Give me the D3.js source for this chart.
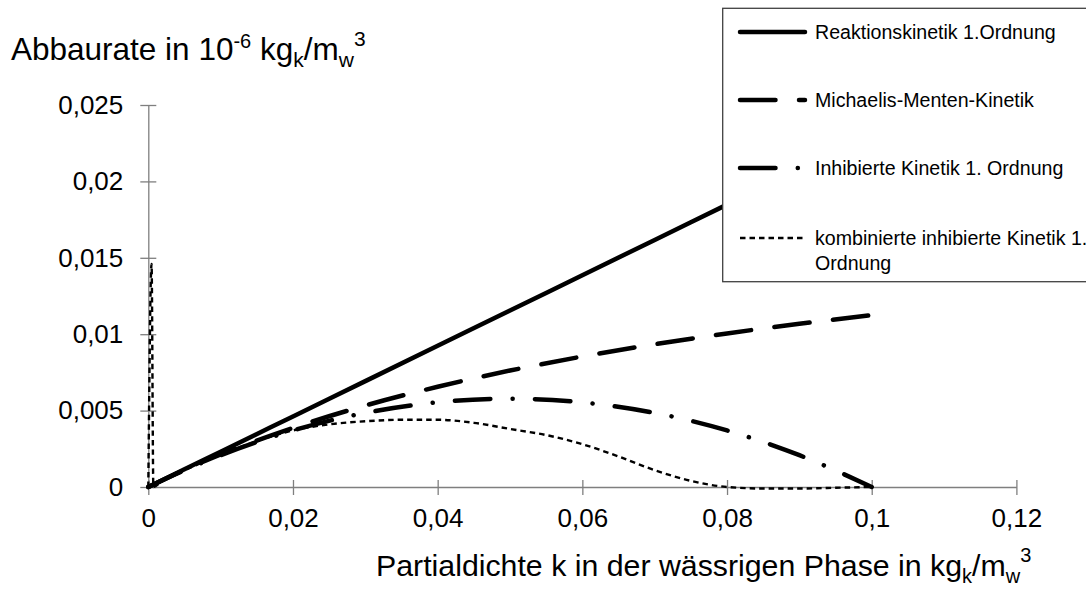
<html>
<head>
<script src="https://d3js.org/d3.v7.min.js"></script>
<style>
  body { margin: 0; background: #fff; }
  text { font-family: "Liberation Sans", Arial, sans-serif; fill: #000; }
  .axis path, .axis line { stroke: #7f7f7f; stroke-width: 1.3px; }
</style>
</head>
<body>
<svg id="chart" width="1086" height="592"></svg>
<script>
// x values (Partialdichte) shared by the three smooth curves
const cValues = [0, 0.005, 0.01, 0.02, 0.03, 0.04, 0.05, 0.06, 0.07, 0.08, 0.09, 0.1];
const reaktion = [0, 0.00116, 0.00231, 0.00462, 0.00693, 0.00924, 0.01155, 0.01386, 0.01617, 0.01848, 0.02079, 0.0231];
const michaelis = [0, 0.00112, 0.00213, 0.00387, 0.00533, 0.00656, 0.00762, 0.00854, 0.00934, 0.01005, 0.01068, 0.01125];
const inhibiert = [0, 0.0011, 0.00208, 0.0037, 0.00485, 0.00554, 0.00578, 0.00554, 0.00485, 0.0037, 0.00208, 0];
// combined curve has its own x values (spike near 0)
const kombX = [0, 0.00045, 0.0007, 0.002, 0.005, 0.01, 0.015, 0.02, 0.025, 0.03, 0.035, 0.04, 0.045, 0.05, 0.055, 0.06, 0.065, 0.07, 0.075, 0.08, 0.085, 0.09, 0.095, 0.1];
const kombY = [0, 0.0146, 0, 0.00045, 0.0011, 0.0021, 0.003, 0.0037, 0.0041, 0.0043, 0.0044, 0.0044, 0.0042, 0.0038, 0.0034, 0.0028, 0.002, 0.0011, 0.0004, 0, -0.0001, -0.0001, -0.00005, 0];

const xTicks = [0, 0.02, 0.04, 0.06, 0.08, 0.1, 0.12];
const yTicks = [0, 0.005, 0.01, 0.015, 0.02, 0.025];
const legendLabels = ["Reaktionskinetik 1.Ordnung", "Michaelis-Menten-Kinetik", "Inhibierte Kinetik 1. Ordnung", "kombinierte inhibierte Kinetik 1.", "Ordnung"];

const svg = d3.select("svg#chart");
const x = d3.scaleLinear().domain([0, 0.12]).range([148.3, 1016.4]);
const y = d3.scaleLinear().domain([0, 0.025]).range([487, 105]);
const fmt = d => String(d).replace(".", ",");

// axes
const xAxis = svg.append("g").attr("class", "axis")
    .attr("transform", "translate(0," + y(0) + ")")
    .call(d3.axisBottom(x).tickValues(xTicks).tickSizeOuter(0).tickFormat(fmt));
xAxis.selectAll(".tick line").attr("y1", -7).attr("y2", 8);
xAxis.selectAll(".tick text").attr("y", 40).attr("dy", 0)
    .style("font-size", "26px").style("font-family", "Liberation Sans, Arial, sans-serif");

const yAxis = svg.append("g").attr("class", "axis")
    .attr("transform", "translate(" + x(0) + ",0)")
    .call(d3.axisLeft(y).tickValues(yTicks).tickSizeOuter(0).tickFormat(fmt));
yAxis.selectAll(".tick line").attr("x1", -8).attr("x2", 8);
yAxis.selectAll(".tick text").attr("x", -25).attr("dy", "0.32em")
    .style("font-size", "26px").style("font-family", "Liberation Sans, Arial, sans-serif");

// series
const styles = [
    { w: 4.5, dash: null, cap: "round" },
    { w: 4.5, dash: "35.5,23.5", cap: "round" },
    { w: 4.5, dash: "35.5,22.25,0.1,22.25", cap: "round" },
    { w: 2.4, dash: "5.5,4", cap: "butt" }
];
const line = d3.line().x(d => x(d[0])).y(d => y(d[1])).curve(d3.curveMonotoneX);
const series = [
    cValues.map((c, i) => [c, reaktion[i]]),
    cValues.map((c, i) => [c, michaelis[i]]),
    cValues.map((c, i) => [c, inhibiert[i]]),
    kombX.map((c, i) => [c, kombY[i]])
];
series.forEach((s, i) => {
    svg.append("path").datum(s)
        .attr("d", line)
        .attr("fill", "none")
        .attr("stroke", "#000")
        .attr("stroke-width", styles[i].w)
        .attr("stroke-linecap", styles[i].cap)
        .attr("stroke-dasharray", styles[i].dash);
});

// legend
const legend = svg.append("g");
legend.append("rect")
    .attr("x", 722.7).attr("y", 8.3).attr("width", 380).attr("height", 273.4)
    .attr("fill", "#fff").attr("stroke", "#404040").attr("stroke-width", 1.3);
const legendY = [32, 100, 168, 238];
styles.forEach((st, i) => {
    legend.append("line")
        .attr("x1", 740).attr("x2", 805)
        .attr("y1", legendY[i]).attr("y2", legendY[i])
        .attr("stroke", "#000")
        .attr("stroke-width", st.w)
        .attr("stroke-linecap", st.cap)
        .attr("stroke-dasharray", st.dash);
});
const legendTextY = [32, 100, 168, 238, 263];
legendLabels.forEach((t, i) => {
    legend.append("text")
        .attr("x", 815).attr("y", legendTextY[i]).attr("dy", "0.35em")
        .style("font-size", "19.6px")
        .text(t);
});

// axis titles
const yTitle = svg.append("text").attr("x", 11).attr("y", 59.5).style("font-size", "31.5px");
yTitle.append("tspan").text("Abbaurate in 10");
yTitle.append("tspan").attr("dy", -12).style("font-size", "20px").text("-6");
yTitle.append("tspan").attr("dy", 12).text(" kg");
yTitle.append("tspan").attr("dy", 7).style("font-size", "21px").text("k");
yTitle.append("tspan").attr("dy", -7).text("/m");
yTitle.append("tspan").attr("dy", 7).style("font-size", "21px").text("w");
yTitle.append("tspan").attr("dy", -21).style("font-size", "21px").text("3");

const xTitle = svg.append("text").attr("x", 376).attr("y", 576).style("font-size", "30.3px");
xTitle.append("tspan").text("Partialdichte k in der wässrigen Phase in kg");
xTitle.append("tspan").attr("dy", 7).style("font-size", "20px").text("k");
xTitle.append("tspan").attr("dy", -7).text("/m");
xTitle.append("tspan").attr("dy", 7).style("font-size", "20px").text("w");
xTitle.append("tspan").attr("dy", -21).style("font-size", "20px").text("3");
</script>
</body>
</html>
